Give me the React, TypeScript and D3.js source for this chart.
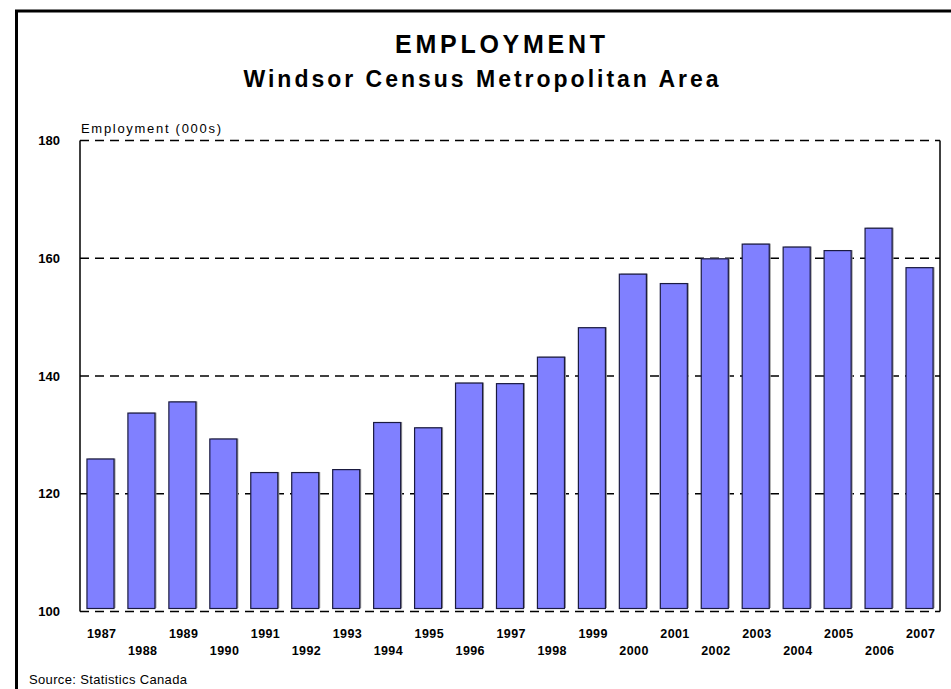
import React from "react";
import * as d3 from "d3";

const years = ["1987","1988","1989","1990","1991","1992","1993","1994","1995","1996","1997","1998","1999","2000","2001","2002","2003","2004","2005","2006","2007"];
const employment = [125.9,133.7,135.6,129.3,123.6,123.6,124.1,132.1,131.2,138.8,138.7,143.2,148.2,157.3,155.7,159.9,162.4,161.9,161.3,165.1,158.4];
const yTicks = [100,120,140,160,180];
const title = "EMPLOYMENT";
const subtitle = "Windsor Census Metropolitan Area";
const yAxisTitle = "Employment (000s)";
const source = "Source: Statistics Canada";

const W = 951, H = 689;
const plot = { left: 80, right: 940, top: 140.5, bottom: 611.5 };

export default function App() {
  const x = d3.scaleBand<string>().domain(years).range([plot.left, plot.right]).paddingInner(0.34).paddingOuter(0.17);
  const y = d3.scaleLinear().domain([100, 180]).range([plot.bottom, plot.top]);
  const font = "Arial, 'Liberation Sans', sans-serif";
  const barBottom = y(100) - 3;
  return (
    <svg width={W} height={H} style={{ position: "absolute", left: 0, top: 0, background: "#fff" }} fontFamily={font}>
      <rect x={16.5} y={11} width={960} height={720} fill="none" stroke="#000" strokeWidth={3} />
      <text x={500} y={53} textAnchor="middle" fontSize={25} fontWeight="bold" textLength={210} lengthAdjust="spacing">{title}</text>
      <text x={481} y={87} textAnchor="middle" fontSize={23} fontWeight="bold" textLength={475} lengthAdjust="spacing">{subtitle}</text>
      <text x={81} y={133} fontSize={13} textLength={140} lengthAdjust="spacing">{yAxisTitle}</text>
      {yTicks.map(t => (
        <g key={t}>
          <line x1={plot.left} x2={plot.right} y1={y(t)} y2={y(t)} stroke="#000" strokeWidth={1.3} strokeDasharray="9,6" />
          <text x={60} y={y(t)} dy="0.35em" textAnchor="end" fontSize={13} fontWeight="bold">{t}</text>
        </g>
      ))}
      <line x1={plot.left} x2={plot.left} y1={plot.top} y2={plot.bottom} stroke="#000" strokeWidth={1.5} />
      <line x1={plot.right} x2={plot.right} y1={plot.top} y2={plot.bottom} stroke="#000" strokeWidth={1.5} />
      {years.map((yr, i) => {
        const bx = x(yr)!;
        const bw = x.bandwidth();
        const top = y(employment[i]);
        return (
          <g key={yr}>
            <rect x={bx + 1.5} y={top - 0.5} width={bw} height={barBottom - top} fill="#999" />
            <rect x={bx} y={top} width={bw} height={barBottom - top} fill="#8080FF" stroke="#1a1a40" strokeWidth={1.2} />
            <text x={bx + bw / 2 + 1} y={i % 2 === 0 ? 638 : 655} textAnchor="middle" fontSize={12.5} fontWeight="bold" textLength={29} lengthAdjust="spacing">{yr}</text>
          </g>
        );
      })}
      <text x={29} y={684} fontSize={13} textLength={158} lengthAdjust="spacing">{source}</text>
    </svg>
  );
}
